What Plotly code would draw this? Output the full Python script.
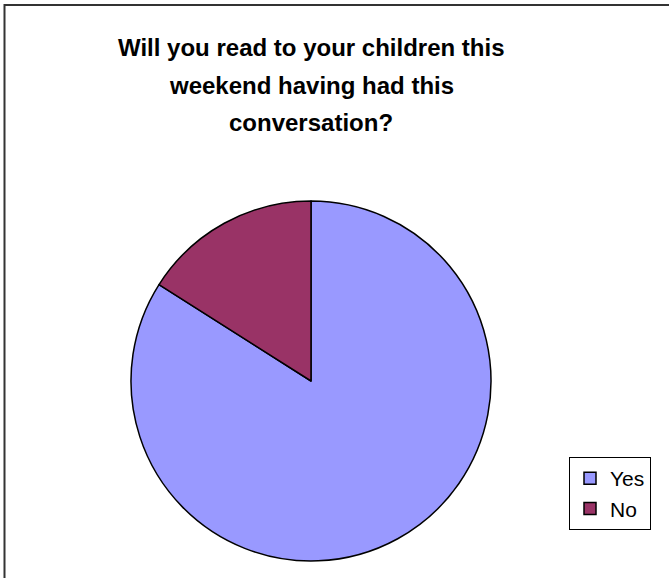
import plotly.graph_objects as go

W, H = 669, 578

labels = ["Yes", "No"]
values = [84, 16]
colors = ["#9999FF", "#993366"]

title_lines = [
    "Will you read to your children this",
    "weekend having had this",
    "conversation?",
]
title_y_px = [48, 85, 122]


def px_x(v):
    return v / W


def px_y(v):
    return 1 - v / H


fig = go.Figure(go.Pie(
    labels=labels,
    values=values,
    sort=False,
    direction="clockwise",
    rotation=0,
    textinfo="none",
    hoverinfo="label+percent",
    marker=dict(colors=colors, line=dict(color="black", width=1.5)),
    domain=dict(x=[px_x(131), px_x(491)], y=[px_y(561), px_y(201)]),
))

# title, one annotation per line to keep the line spacing
for txt, yy in zip(title_lines, title_y_px):
    fig.add_annotation(
        text="<b>%s</b>" % txt, x=px_x(311), y=px_y(yy),
        xref="paper", yref="paper", showarrow=False,
        xanchor="center", yanchor="middle",
        font=dict(family="Liberation Sans, Arial", size=24, color="black"),
    )

# outer chart frame (right/bottom edges fall outside the picture)
fig.add_shape(type="rect", xref="paper", yref="paper",
              x0=px_x(4.5), x1=1.02, y0=-0.02, y1=px_y(5),
              line=dict(color="#333333", width=2), fillcolor="rgba(0,0,0,0)")

fig.update_layout(
    width=W, height=H,
    margin=dict(l=0, r=0, t=0, b=0),
    paper_bgcolor="white",
    plot_bgcolor="white",
    showlegend=True,
    legend=dict(
        x=px_x(569), y=px_y(457), xanchor="left", yanchor="top",
        bordercolor="black", borderwidth=1, bgcolor="white",
        font=dict(family="Liberation Sans, Arial", size=21, color="black"),
        itemwidth=30,
    ),
)

# page has a default 8px body margin; drop it so the figure sits at 0,0
fig.write_html("out.html", config={"displayModeBar": False},
               post_script="document.body.style.margin='0';")
